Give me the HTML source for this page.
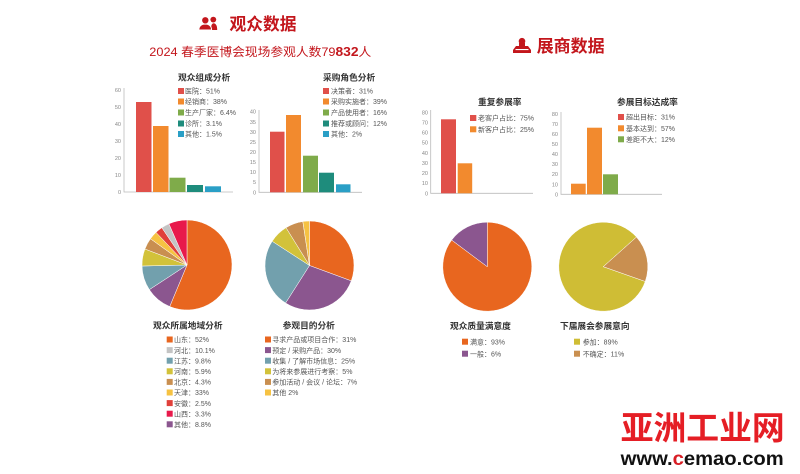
<!DOCTYPE html>
<html><head><meta charset="utf-8"><style>
html,body{margin:0;padding:0;background:#fff;width:800px;height:474px;overflow:hidden}
svg{display:block}
text{font-family:"Liberation Sans","Noto Sans CJK SC",sans-serif}
.t{font-size:8.7px;font-weight:bold;fill:#333}
.l{font-size:7px;fill:#555}
.a{font-size:5.5px;fill:#888;text-anchor:end}
.ax{stroke:#bbb;stroke-width:0.8;fill:none}
</style></head><body>
<svg width="800" height="474" viewBox="0 0 800 474" xmlns="http://www.w3.org/2000/svg">
<rect width="800" height="474" fill="#fff"/>

<!-- header left -->
<g fill="#c3161c">
  <circle cx="213.3" cy="19.6" r="2.9"/>
  <path d="M210.8,30 Q211,23.4 213.5,23.3 Q217.2,23.6 217.2,30 Z"/>
  <circle cx="205.3" cy="20.3" r="3.7" stroke="#fff" stroke-width="1"/>
  <path d="M198.8,30 Q199,24.2 205.3,24 Q211.4,24.2 211.6,30 Z" stroke="#fff" stroke-width="1"/>
</g>
<text x="229.5" y="30" font-size="17" font-weight="bold" fill="#c3161c" textLength="67" lengthAdjust="spacingAndGlyphs">观众数据</text>
<text x="149.3" y="56.2" font-size="12" fill="#c3161c" textLength="222" lengthAdjust="spacingAndGlyphs">2024 春季医博会现场参观人数79<tspan font-weight="bold" font-size="13">832</tspan>人</text>

<!-- header right -->
<g fill="#c3161c">
  <circle cx="522" cy="41.2" r="3.3"/>
  <rect x="519" y="43" width="6" height="3.5"/>
  <path d="M516,46 L528,46 L531,50 L531,53 L513,53 L513,50 Z"/>
  <rect x="515.5" y="49" width="13" height="1.1" fill="#fff"/>
</g>
<text x="536.7" y="52" font-size="17" font-weight="bold" fill="#c3161c" textLength="68" lengthAdjust="spacingAndGlyphs">展商数据</text>

<!-- Chart 1 观众组成分析 -->
<path class="ax" d="M124,88 L124,192 L233,192"/>
<g class="a">
<text x="121" y="194">0</text><text x="121" y="177">10</text><text x="121" y="160">20</text><text x="121" y="143">30</text><text x="121" y="126">40</text><text x="121" y="109">50</text><text x="121" y="92">60</text>
</g>
<rect x="136" y="102" width="15.5" height="90" fill="#e0504a"/>
<rect x="153" y="126" width="15.5" height="66" fill="#f28a2e"/>
<rect x="169.5" y="177.7" width="16" height="14.3" fill="#7fab4a"/>
<rect x="187" y="185" width="16" height="7" fill="#1e8c7c"/>
<rect x="205" y="186.3" width="16" height="5.7" fill="#2a9fc6"/>
<text class="t" x="178" y="80.5">观众组成分析</text>
<rect x="178" y="88" width="6" height="6" fill="#e0504a"/><text class="l" x="185" y="93.7">医院：51%</text>
<rect x="178" y="98.5" width="6" height="6" fill="#f28a2e"/><text class="l" x="185" y="104.2">经销商：38%</text>
<rect x="178" y="109.5" width="6" height="6" fill="#7fab4a"/><text class="l" x="185" y="115.2">生产厂家：6.4%</text>
<rect x="178" y="120.5" width="6" height="6" fill="#1e8c7c"/><text class="l" x="185" y="126.2">诊所：3.1%</text>
<rect x="178" y="131" width="6" height="6" fill="#2a9fc6"/><text class="l" x="185" y="136.7">其他：1.5%</text>

<!-- Chart 2 采购角色分析 -->
<path class="ax" d="M259,110 L259,192.3 L362,192.3"/>
<g class="a">
<text x="256" y="194.3">0</text><text x="256" y="184.2">5</text><text x="256" y="174.2">10</text><text x="256" y="164.1">15</text><text x="256" y="154.1">20</text><text x="256" y="144">25</text><text x="256" y="133.9">30</text><text x="256" y="123.8">35</text><text x="256" y="113.7">40</text>
</g>
<rect x="270" y="131.7" width="14.5" height="60.6" fill="#e0504a"/>
<rect x="286" y="115" width="15" height="77.3" fill="#f28a2e"/>
<rect x="303" y="155.7" width="15" height="36.6" fill="#7fab4a"/>
<rect x="319" y="172.7" width="15" height="19.6" fill="#1e8c7c"/>
<rect x="336" y="184.3" width="14.5" height="8" fill="#2a9fc6"/>
<text class="t" x="323" y="80.5">采购角色分析</text>
<rect x="323" y="88" width="6" height="6" fill="#e0504a"/><text class="l" x="331" y="93.7">决策者：31%</text>
<rect x="323" y="98.5" width="6" height="6" fill="#f28a2e"/><text class="l" x="331" y="104.2">采购实施者：39%</text>
<rect x="323" y="109.5" width="6" height="6" fill="#7fab4a"/><text class="l" x="331" y="115.2">产品使用者：16%</text>
<rect x="323" y="120.5" width="6" height="6" fill="#1e8c7c"/><text class="l" x="331" y="126.2">推荐或顾问：12%</text>
<rect x="323" y="131" width="6" height="6" fill="#2a9fc6"/><text class="l" x="331" y="136.7">其他：2%</text>

<!-- Right chart 1 重复参展率 -->
<path class="ax" d="M430.7,110 L430.7,193.3 L533,193.3"/>
<g class="a">
<text x="428" y="195.3">0</text><text x="428" y="185.2">10</text><text x="428" y="175.1">20</text><text x="428" y="164.9">30</text><text x="428" y="154.8">40</text><text x="428" y="144.7">50</text><text x="428" y="134.6">60</text><text x="428" y="124.4">70</text><text x="428" y="114.3">80</text>
</g>
<rect x="441" y="119.3" width="15" height="74" fill="#e0504a"/>
<rect x="457.7" y="163.3" width="14.5" height="30" fill="#f28a2e"/>
<text class="t" x="478" y="105">重复参展率</text>
<rect x="470" y="115" width="6.3" height="6" fill="#e0504a"/><text class="l" x="478" y="120.7">老客户占比：75%</text>
<rect x="470" y="126.3" width="6.3" height="6" fill="#f28a2e"/><text class="l" x="478" y="132">新客户占比：25%</text>

<!-- Right chart 2 参展目标达成率 -->
<path class="ax" d="M561,112 L561,194.3 L662,194.3"/>
<g class="a">
<text x="558" y="196.3">0</text><text x="558" y="186.3">10</text><text x="558" y="176.2">20</text><text x="558" y="166.2">30</text><text x="558" y="156.2">40</text><text x="558" y="146.1">50</text><text x="558" y="136.1">60</text><text x="558" y="126">70</text><text x="558" y="116">80</text>
</g>
<rect x="571" y="183.7" width="14.7" height="10.6" fill="#f28a2e"/>
<rect x="587" y="127.7" width="15" height="66.6" fill="#f28a2e"/>
<rect x="603" y="174.3" width="15" height="20" fill="#7fab4a"/>
<text class="t" x="617" y="105">参展目标达成率</text>
<rect x="618" y="114" width="6" height="6" fill="#e0504a"/><text class="l" x="626" y="119.7">超出目标：31%</text>
<rect x="618" y="125.3" width="6" height="6" fill="#f28a2e"/><text class="l" x="626" y="131">基本达到：57%</text>
<rect x="618" y="136.3" width="6" height="6" fill="#7fab4a"/><text class="l" x="626" y="142">差距不大：12%</text>

<!-- Pie 1 地域 -->
<g stroke="#fff" stroke-width="0.5">
<path d="M187,265 L187,220 A45,45 0 1 1 169.71,306.54 Z" fill="#e8661f"/>
<path d="M187,265 L169.71,306.54 A45,45 0 0 1 149.34,289.64 Z" fill="#8b568f"/>
<path d="M187,265 L149.34,289.64 A45,45 0 0 1 142.01,266.02 Z" fill="#72a0ad"/>
<path d="M187,265 L142.01,266.02 A45,45 0 0 1 144.93,249.02 Z" fill="#d2c23a"/>
<path d="M187,265 L144.93,249.02 A45,45 0 0 1 150.46,238.74 Z" fill="#c98f50"/>
<path d="M187,265 L150.46,238.74 A45,45 0 0 1 156.02,232.36 Z" fill="#f6c242"/>
<path d="M187,265 L156.02,232.36 A45,45 0 0 1 161.84,227.69 Z" fill="#e0403a"/>
<path d="M187,265 L161.84,227.69 A45,45 0 0 1 168.91,223.79 Z" fill="#c4c4c4"/>
<path d="M187,265 L168.91,223.79 A45,45 0 0 1 187,220 Z" fill="#e8194b"/>
</g>

<!-- Pie 2 参观目的 -->
<g stroke="#fff" stroke-width="0.5">
<path d="M309.5,265.5 L309.5,221 A44.5,44.5 0 0 1 351.26,280.87 Z" fill="#e8661f"/>
<path d="M309.5,265.5 L351.26,280.87 A44.5,44.5 0 0 1 285.59,303.03 Z" fill="#8b568f"/>
<path d="M309.5,265.5 L285.59,303.03 A44.5,44.5 0 0 1 272.18,241.26 Z" fill="#72a0ad"/>
<path d="M309.5,265.5 L272.18,241.26 A44.5,44.5 0 0 1 286.05,227.68 Z" fill="#d2c23a"/>
<path d="M309.5,265.5 L286.05,227.68 A44.5,44.5 0 0 1 302.85,221.5 Z" fill="#c98f50"/>
<path d="M309.5,265.5 L302.85,221.5 A44.5,44.5 0 0 1 309.5,221 Z" fill="#f6c242"/>
</g>

<!-- Pie 3 满意度 -->
<g stroke="#fff" stroke-width="0.5">
<path d="M487.3,266.7 L487.3,222.2 A44.5,44.5 0 1 1 451.67,240.04 Z" fill="#e8661f"/>
<path d="M487.3,266.7 L451.67,240.04 A44.5,44.5 0 0 1 487.3,222.2 Z" fill="#8b568f"/>
</g>

<!-- Pie 4 意向 -->
<g stroke="#fff" stroke-width="0.5">
<path d="M603.3,266.7 L645.27,281.48 A44.5,44.5 0 1 1 636.47,237.04 Z" fill="#cfbd35"/>
<path d="M603.3,266.7 L636.47,237.04 A44.5,44.5 0 0 1 645.27,281.48 Z" fill="#c98f50"/>
</g>

<!-- Pie legends -->
<text class="t" x="153" y="328.3">观众所属地域分析</text>
<rect x="166.7" y="336.5" width="6" height="6" fill="#e8661f"/><text class="l" x="174" y="342.2">山东：52%</text>
<rect x="166.7" y="347.1" width="6" height="6" fill="#c4c4c4"/><text class="l" x="174" y="352.8">河北：10.1%</text>
<rect x="166.7" y="357.7" width="6" height="6" fill="#72a0ad"/><text class="l" x="174" y="363.4">江苏：9.8%</text>
<rect x="166.7" y="368.3" width="6" height="6" fill="#d2c23a"/><text class="l" x="174" y="374">河南：5.9%</text>
<rect x="166.7" y="378.9" width="6" height="6" fill="#c98f50"/><text class="l" x="174" y="384.6">北京：4.3%</text>
<rect x="166.7" y="389.5" width="6" height="6" fill="#f6c242"/><text class="l" x="174" y="395.2">天津：33%</text>
<rect x="166.7" y="400.1" width="6" height="6" fill="#e0403a"/><text class="l" x="174" y="405.8">安徽：2.5%</text>
<rect x="166.7" y="410.7" width="6" height="6" fill="#e8194b"/><text class="l" x="174" y="416.4">山西：3.3%</text>
<rect x="166.7" y="421.3" width="6" height="6" fill="#8b568f"/><text class="l" x="174" y="427">其他：8.8%</text>

<text class="t" x="282.7" y="328.3">参观目的分析</text>
<rect x="265" y="336.5" width="6" height="6" fill="#e8661f"/><text class="l" x="272.3" y="342.2">寻求产品或项目合作：31%</text>
<rect x="265" y="347.1" width="6" height="6" fill="#8b568f"/><text class="l" x="272.3" y="352.8">预定 / 采购产品：30%</text>
<rect x="265" y="357.7" width="6" height="6" fill="#72a0ad"/><text class="l" x="272.3" y="363.4">收集 / 了解市场信息：25%</text>
<rect x="265" y="368.3" width="6" height="6" fill="#d2c23a"/><text class="l" x="272.3" y="374">为将来参展进行考察：5%</text>
<rect x="265" y="378.9" width="6" height="6" fill="#c98f50"/><text class="l" x="272.3" y="384.6">参加活动 / 会议 / 论坛：7%</text>
<rect x="265" y="389.5" width="6" height="6" fill="#f6c242"/><text class="l" x="272.3" y="395.2">其他 2%</text>

<text class="t" x="450" y="329">观众质量满意度</text>
<rect x="462" y="338.7" width="6" height="6" fill="#e8661f"/><text class="l" x="470" y="344.4">满意：93%</text>
<rect x="462" y="350.7" width="6" height="6" fill="#8b568f"/><text class="l" x="470" y="356.4">一般：6%</text>

<text class="t" x="560" y="329">下届展会参展意向</text>
<rect x="574" y="338.7" width="6" height="6" fill="#cfbd35"/><text class="l" x="582.7" y="344.4">参加：89%</text>
<rect x="574" y="350.7" width="6" height="6" fill="#c98f50"/><text class="l" x="582.7" y="356.4">不确定：11%</text>

<!-- watermark -->
<text x="620.7" y="439.5" font-size="33" font-weight="bold" fill="#e51e25" textLength="164" lengthAdjust="spacingAndGlyphs">亚洲工业网</text>
<text x="620.7" y="465" font-size="19" font-weight="bold" fill="#111" textLength="163" lengthAdjust="spacingAndGlyphs">www.<tspan fill="#d81e25">c</tspan>emao.com</text>
</svg>
</body></html>
